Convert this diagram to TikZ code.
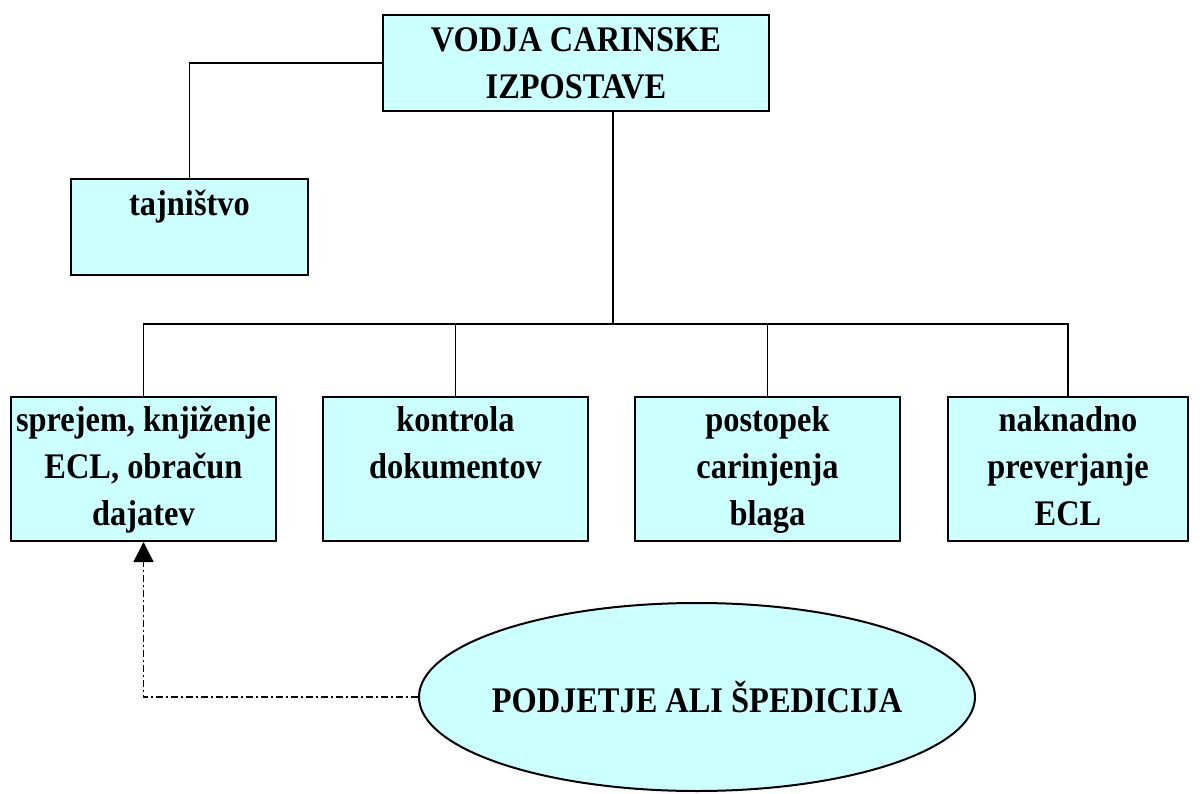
\documentclass[tikz,border=0pt]{standalone}
\usepackage{fontspec}
\setmainfont{Liberation Serif}[FakeStretch=0.9]
\usepackage{tikz}
\usetikzlibrary{arrows.meta, positioning, shapes.geometric}

\definecolor{boxcyan}{HTML}{CCFFFF}
\tikzset{
  unit/.style = {draw, fill=boxcyan, line width=2pt, minimum width=265pt, minimum height=144pt},
  txt/.style  = {align=center, inner sep=0pt, font=\fontsize{36}{47}\selectfont\bfseries},
  wire/.style = {line width=1.5pt},
  link/.style = {line width=1.5pt, dash pattern=on 7pt off 3pt on 2pt off 3pt,
                 -{Triangle[length=20pt,width=20pt]}}
}

\begin{document}
\begin{tikzpicture}[x=1pt, y=-1pt]
\useasboundingbox (0,0) rectangle (1200,794);

% head and secretary
\node[unit, minimum width=386pt, minimum height=96pt] (head) at (576,63) {};
\node[txt] (headt) at (head) {VODJA CARINSKE\\IZPOSTAVE};
\node[unit, minimum width=237pt, minimum height=96pt] (taj) at (189.5,227) {};
\node[txt, below=12pt of taj.north] (tajt) {tajništvo};

% departments
\node[unit] (b1) at (143.5,469) {};
\node[unit] (b2) at (455.5,469) {};
\node[unit] (b3) at (767.5,469) {};
\node[unit, minimum width=240pt] (b4) at (1068,469) {};
\node[txt, below=10pt of b1.north] (b1t) {sprejem, knjiženje\\ECL, obračun\\dajatev};
\node[txt, below=10pt of b2.north] (b2t) {kontrola\\dokumentov};
\node[txt, below=10pt of b3.north] (b3t) {postopek\\carinjenja\\blaga};
\node[txt, below=10pt of b4.north] (b4t) {naknadno\\preverjanje\\ECL};

% firm
\node[ellipse, draw, fill=boxcyan, line width=2pt, txt, inner xsep=-9pt,
      minimum width=556pt, minimum height=188pt] (firm) at (697,697) {PODJETJE ALI ŠPEDICIJA};

% tree lines
\coordinate (bus) at (613,324);
\draw[wire] (head.west) -| (taj.north);
\draw[wire] (bus |- head.south) -- (bus);
\draw[wire] (b1.north) |- (bus);
\draw[wire] (b2.north) |- (bus);
\draw[wire] (b3.north) |- (bus);
\draw[wire] (b4.north) |- (bus);

\draw[link] (firm.west) -| (b1.south);
\end{tikzpicture}
\end{document}
